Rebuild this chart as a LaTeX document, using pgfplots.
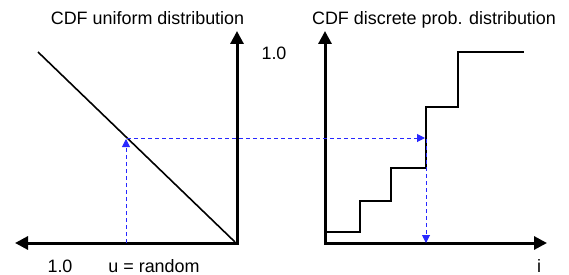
\documentclass[border=0pt]{standalone}
\usepackage{pgfplots}
\pgfplotsset{compat=1.18}
\usepackage{fontspec}
\setmainfont{Liberation Sans}
\usetikzlibrary{arrows.meta}
\definecolor{dashblue}{RGB}{40,40,255}
\begin{document}
\begin{tikzpicture}[lbl/.style={anchor=base, inner sep=0pt, font=\fontsize{18}{21}\selectfont}]
\begin{axis}[
  scale only axis, width=569bp, height=275bp,
  xmin=0, xmax=569, ymin=0, ymax=275, y dir=reverse,
  hide axis, clip=false,
]
% left panel axes (u axis pointing left, CDF axis up)
\addplot[black, line width=3bp, line join=miter,
  {Triangle[length=13bp,width=13bp]}-{Triangle[length=13bp,width=13bp]}]
  coordinates {(15,243) (237,243) (237,31)};
% right panel axes
\addplot[black, line width=3bp, line join=miter,
  {Triangle[length=13bp,width=13bp]}-{Triangle[length=13bp,width=13bp]}]
  coordinates {(325,31) (325,243) (547,243)};
% uniform CDF (diagonal)
\addplot[black, line width=1.6bp] coordinates {(38,52) (235,242)};
% discrete CDF (steps)
\addplot[black, line width=2bp, line join=miter]
  coordinates {(326,232) (360,232) (360,201) (391,201) (391,168) (426,168)
               (426,107) (458,107) (458,52) (524,52)};
% blue dashed inverse-transform path
\addplot[dashblue, line width=1bp, dash pattern=on 4bp off 3bp,
  -{Triangle[length=8bp,width=8bp]}]
  coordinates {(126,243) (126,139)};
\addplot[dashblue, line width=1bp, dash pattern=on 4bp off 3bp,
  -{Triangle[length=8bp,width=8bp]}]
  coordinates {(127,138) (425,138)};
\addplot[dashblue, line width=1bp, dash pattern=on 4bp off 3bp,
  -{Triangle[length=8bp,width=8bp]}]
  coordinates {(426,139) (426,243)};
% labels
\node[lbl] at (axis cs:147.5,25) {CDF uniform distribution};
\node[lbl] at (axis cs:434,25) {CDF discrete prob. distribution};
\node[lbl] at (axis cs:274,59) {1.0};
\node[lbl] at (axis cs:60,272) {1.0};
\node[lbl] at (axis cs:154,272) {u = random};
\node[lbl] at (axis cs:539,272) {i};
\end{axis}
\pgfresetboundingbox
\path (current axis.south west) rectangle (current axis.north east);
\end{tikzpicture}
\end{document}
